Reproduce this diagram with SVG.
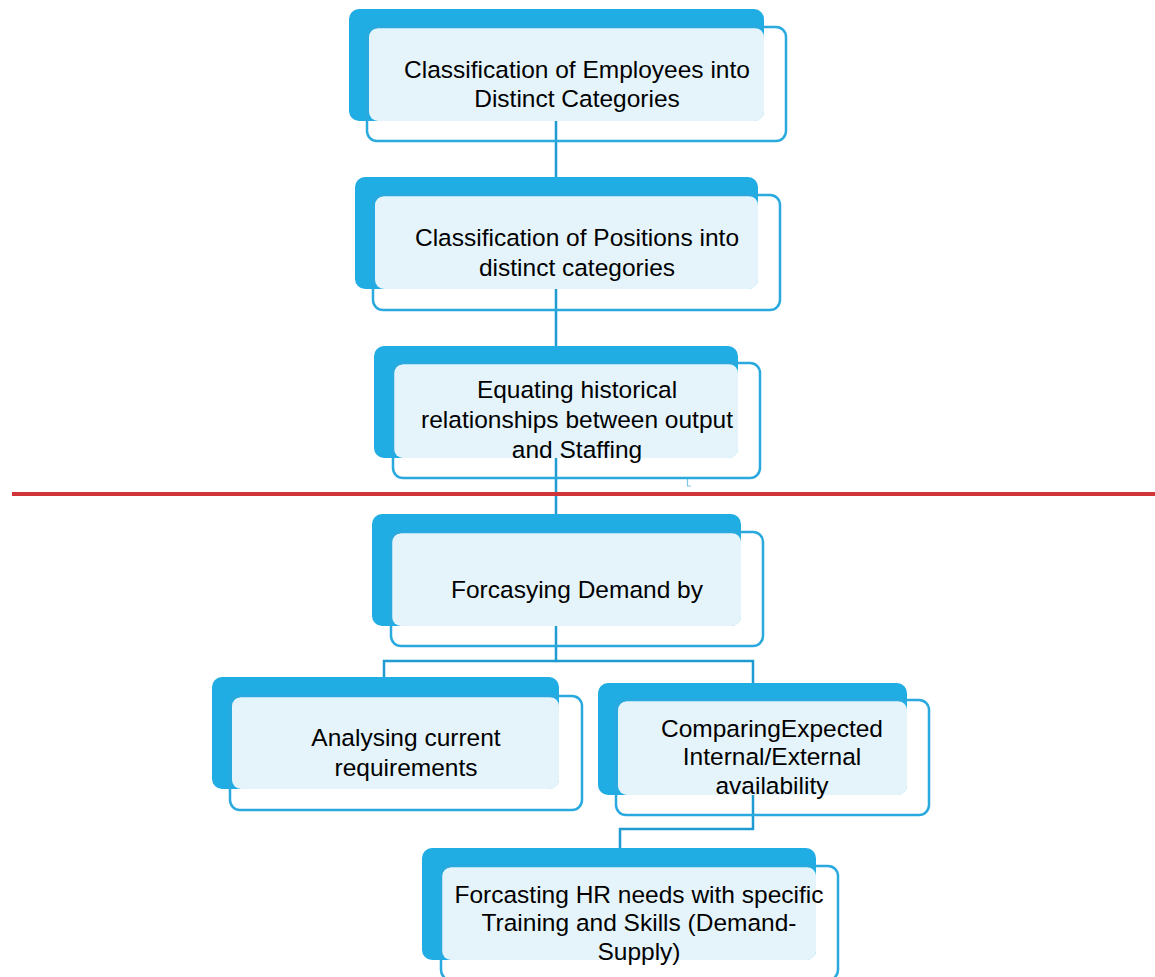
<svg xmlns="http://www.w3.org/2000/svg" width="1155" height="977" viewBox="0 0 1155 977">
<style>
.back{fill:#1fade3}
.light{fill:#e5f4fb}
.outline{fill:none;stroke:#29a9de;stroke-width:2.5}
.conn{fill:none;stroke:#1f9bd2;stroke-width:2.5}
text{font-family:"Liberation Sans",Arial,sans-serif;font-size:24.5px;fill:#000;text-anchor:middle}
</style>
<rect width="1155" height="977" fill="#ffffff"/>
<g id="connectors">
<path class="conn" d="M556 121V180"/>
<path class="conn" d="M556 289V350"/>
<path class="conn" d="M556 458V520"/>
<path class="conn" d="M556 626V661H753V688"/>
<path class="conn" d="M556 661H384V680"/>
<path class="conn" d="M753 795V829H620V852"/>
<path fill="none" stroke="#7cc6e6" stroke-width="1.2" d="M678 477.5H687.5V486H691"/>
</g>
<line x1="12" y1="494" x2="1155" y2="494" stroke="#d13438" stroke-width="4"/>
<g id="node1">
<rect class="back" x="349" y="9" width="415" height="112" rx="10"/>
<rect class="light" x="369" y="28" width="395" height="93" rx="9"/>
<rect class="outline" x="367" y="27" width="419" height="114" rx="10"/>
<text x="577" y="78">Classification of Employees into</text>
<text x="577" y="107">Distinct Categories</text>
</g>
<g id="node2">
<rect class="back" x="355" y="177" width="403" height="112" rx="10"/>
<rect class="light" x="375" y="196" width="383" height="93" rx="9"/>
<rect class="outline" x="373" y="195" width="407" height="115" rx="10"/>
<text x="577" y="246">Classification of Positions into</text>
<text x="577" y="276">distinct categories</text>
</g>
<g id="node3">
<rect class="back" x="374" y="346" width="364" height="112" rx="10"/>
<rect class="light" x="394" y="364" width="344" height="94" rx="9"/>
<rect class="outline" x="393" y="363" width="367" height="115" rx="10"/>
<text x="577" y="398">Equating historical</text>
<text x="577" y="428">relationships between output</text>
<text x="577" y="458">and Staffing</text>
</g>
<g id="node4">
<rect class="back" x="372" y="514" width="369" height="112" rx="10"/>
<rect class="light" x="392" y="533" width="349" height="93" rx="9"/>
<rect class="outline" x="391" y="532" width="372" height="114" rx="10"/>
<text x="577" y="598">Forcasying Demand by</text>
</g>
<g id="node5">
<rect class="back" x="212" y="677" width="347" height="112" rx="10"/>
<rect class="light" x="232" y="697" width="327" height="92" rx="9"/>
<rect class="outline" x="230" y="696" width="352" height="114" rx="10"/>
<text x="406" y="746">Analysing current</text>
<text x="406" y="776">requirements</text>
</g>
<g id="node6">
<rect class="back" x="598" y="683" width="309" height="112" rx="10"/>
<rect class="light" x="618" y="701" width="289" height="94" rx="9"/>
<rect class="outline" x="616" y="700" width="313" height="115" rx="10"/>
<text x="772" y="737">ComparingExpected</text>
<text x="772" y="765">Internal/External</text>
<text x="772" y="794">availability</text>
</g>
<g id="node7">
<rect class="back" x="422" y="848" width="394" height="112" rx="10"/>
<rect class="light" x="442" y="867" width="374" height="93" rx="9"/>
<rect class="outline" x="441" y="866" width="397" height="114" rx="10"/>
<text x="639" y="903">Forcasting HR needs with specific</text>
<text x="639" y="931">Training and Skills (Demand-</text>
<text x="639" y="960">Supply)</text>
</g>
</svg>
